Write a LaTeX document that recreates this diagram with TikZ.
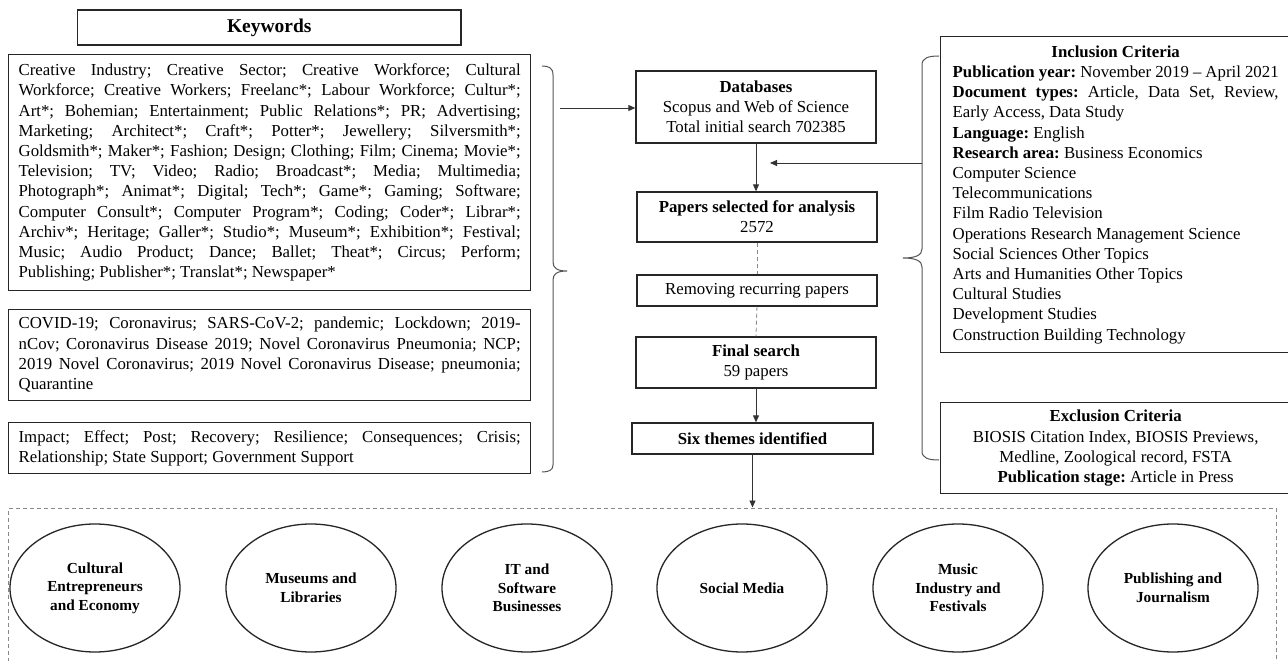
\documentclass[tikz,border=0pt]{standalone}
\usepackage{fontspec}
\setmainfont{Liberation Serif}
\usetikzlibrary{shapes.geometric,arrows.meta}
\frenchspacing
\newcommand\msize{\fontsize{16.8bp}{20.2bp}\selectfont}
\newcommand\esize{\fontsize{15.3bp}{18.6bp}\selectfont}
\newcommand\jset{\frenchspacing\parindent=0pt\tolerance=10000\hbadness=10000\hyphenpenalty=10000\exhyphenpenalty=10000\relax}
\definecolor{linecol}{HTML}{262626}
\definecolor{arrcol}{HTML}{333333}
\definecolor{bracecol}{HTML}{555555}
\definecolor{dashcol}{HTML}{888888}
\begin{document}
\begin{tikzpicture}[x=1bp,y=-1bp,
  box/.style={draw=linecol, line width=1.3bp, inner sep=0pt, font=\msize\frenchspacing, align=center},
  kwbox/.style={draw=linecol, line width=1.3bp, inner xsep=10bp, inner ysep=0pt, anchor=north west,
    text width=502bp, align=justify, font=\msize\jset},
  critbox/.style={draw=linecol, line width=1.3bp, inner xsep=12bp, inner ysep=0pt, anchor=north west,
    text width=326bp, align=justify, font=\msize\jset},
  theme/.style={ellipse, draw=linecol, line width=1.3bp, minimum width=170bp, minimum height=128bp,
    inner sep=0pt, align=center, font=\esize\bfseries},
  arr/.style={draw=arrcol, line width=0.9bp, -{Triangle[length=7bp,width=6bp]}},
  dashconn/.style={draw=dashcol, line width=0.9bp, dash pattern=on 4bp off 3bp},
  bracestyle/.style={draw=bracecol, line width=1bp},
  groupbox/.style={draw=dashcol, line width=1bp, dash pattern=on 4bp off 3bp, inner sep=0pt}]
\useasboundingbox (0,0) rectangle (1288,661);
\clip (0,0) rectangle (1288,661);
\fill[white] (0,0) rectangle (1288,661);

% ---------- left column ----------
\node[box, minimum width=383.5bp, minimum height=35bp, font=\fontsize{19.5bp}{23bp}\selectfont\bfseries]
  (kwtitle) at (269.25,27.5) {Keywords};

\node[kwbox, minimum height=236bp] (kw1) at (8,54) {\strut Creative Industry; Creative Sector; Creative Workforce; Cultural\linebreak
Workforce; Creative Workers; Freelanc*; Labour Workforce; Cultur*;\linebreak
Art*; Bohemian; Entertainment; Public Relations*; PR; Advertising;\linebreak
Marketing; Architect*; Craft*; Potter*; Jewellery; Silversmith*;\linebreak
Goldsmith*; Maker*; Fashion; Design; Clothing; Film; Cinema; Movie*;\linebreak
Television; TV; Video; Radio; Broadcast*; Media; Multimedia;\linebreak
Photograph*; Animat*; Digital; Tech*; Game*; Gaming; Software;\linebreak
Computer Consult*; Computer Program*; Coding; Coder*; Librar*;\linebreak
Archiv*; Heritage; Galler*; Studio*; Museum*; Exhibition*; Festival;\linebreak
Music; Audio Product; Dance; Ballet; Theat*; Circus; Perform;\linebreak
Publishing; Publisher*; Translat*; Newspaper*\strut};

\node[kwbox, minimum height=91bp] (kw2) at (8,309) {\strut COVID-19; Coronavirus; SARS-CoV-2; pandemic; Lockdown; 2019-\linebreak
nCov; Coronavirus Disease 2019; Novel Coronavirus Pneumonia; NCP;\linebreak
2019 Novel Coronavirus; 2019 Novel Coronavirus Disease; pneumonia;\linebreak
Quarantine\strut};

\node[kwbox, minimum height=51bp] (kw3) at (8,422) {\strut Impact; Effect; Post; Recovery; Resilience; Consequences; Crisis;\linebreak
Relationship; State Support; Government Support\strut};

% left brace
\draw[bracestyle] (542,66) .. controls (549,66) and (553,68) .. (553,75) -- (553,262)
  .. controls (553,268) and (557,271) .. (567,271)
  .. controls (557,271) and (553,274) .. (553,280) -- (553,465)
  .. controls (553,470) and (549,472) .. (542,472);

% ---------- centre column ----------
\node[box, minimum width=240bp, minimum height=72bp] (db) at (756,107)
  {\textbf{Databases}\\Scopus and Web of Science\\Total initial search 702385};
\node[box, minimum width=240bp, minimum height=50bp] (papers) at (757,217)
  {\textbf{Papers selected for analysis}\\2572};
\node[box, minimum width=240bp, minimum height=31bp] (removing) at (757,290.5)
  {Removing recurring papers};
\node[box, minimum width=240bp, minimum height=51bp] (final) at (756,362.5)
  {\textbf{Final search}\\59 papers};
\node[box, minimum width=241bp, minimum height=31bp] (six) at (752.5,438.5)
  {\textbf{Six themes identified}};

\coordinate (kwarrow) at (560,108);
\draw[arr] (kwarrow) -- (db.west |- kwarrow);
\draw[arr] (db.south) -- (db.south |- papers.north);
\draw[dashconn] (papers.south) -- (removing.north);
\draw[dashconn] (removing.south) -- (final.north);
\draw[arr] (final.south) -- (final.south |- six.north);

% ---------- right column ----------
\node[critbox, minimum height=316bp] (incl) at (940,36) {{\centering\strut\textbf{Inclusion Criteria}\par}
\textbf{Publication year:} November 2019 -- April 2021\par
\textbf{Document types:} Article, Data Set, Review,\linebreak
Early Access, Data Study\par
\textbf{Language:} English\par
\textbf{Research area:} Business Economics\par
Computer Science\par
Telecommunications\par
Film Radio Television\par
Operations Research Management Science\par
Social Sciences Other Topics\par
Arts and Humanities Other Topics\par
Cultural Studies\par
Development Studies\par
Construction Building Technology\strut};

\node[box, minimum width=350bp, minimum height=91bp, anchor=north west] (excl) at (940,402)
  {\textbf{Exclusion Criteria}\\BIOSIS Citation Index, BIOSIS Previews,\\Medline, Zoological record, FSTA\\\textbf{Publication stage:} Article in Press};

% right brace
\draw[bracestyle] (939,56) .. controls (928,56) and (922,58) .. (922,65) -- (922,249)
  .. controls (922,255) and (916,258) .. (903,258)
  .. controls (916,258) and (922,261) .. (922,267) -- (922,451)
  .. controls (922,458) and (928,460) .. (939,460);

\coordinate (inclarrow) at (922,163);
\coordinate (inclhead) at (770,163);
\draw[arr] (inclarrow) -- (inclhead);

% ---------- themes ----------
\node[groupbox, minimum width=1267bp, minimum height=172bp] (themes) at (642.5,594) {};
\draw[arr] (six.south) -- (six.south |- themes.north);

\node[theme] (t1) at (95,588) {Cultural\\Entrepreneurs\\and Economy};
\node[theme] (t2) at (311,588) {Museums and\\Libraries};
\node[theme] (t3) at (527,588) {IT and\\Software\\Businesses};
\node[theme] (t4) at (742,588) {Social Media};
\node[theme] (t5) at (958,588) {Music\\Industry and\\Festivals};
\node[theme] (t6) at (1173,588) {Publishing and\\Journalism};
\end{tikzpicture}
\end{document}
